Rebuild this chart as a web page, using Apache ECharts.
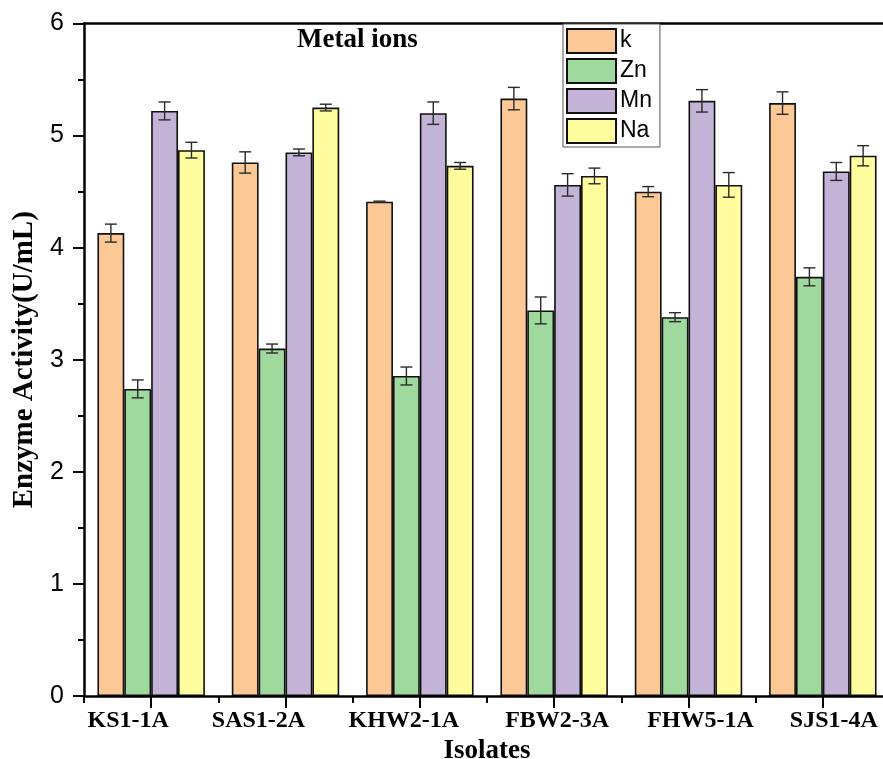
<!DOCTYPE html>
<html><head><meta charset="utf-8">
<script src="https://cdn.jsdelivr.net/npm/echarts@6/dist/echarts.min.js"></script>
<style>html,body{margin:0;padding:0;background:#fff;overflow:hidden}#c{width:883px;height:759px}</style>
</head><body><div id="c"></div>
<script>
const categories = ['KS1-1A','SAS1-2A','KHW2-1A','FBW2-3A','FHW5-1A','SJS1-4A'];
const seriesNames = ['k','Zn','Mn','Na'];
const kVals  = [4.13, 4.76, 4.41, 5.33, 4.50, 5.29];
const kErr   = [0.08, 0.095, 0.005, 0.10, 0.045, 0.10];
const znVals = [2.74, 3.10, 2.855, 3.44, 3.38, 3.74];
const znErr  = [0.08, 0.04, 0.08, 0.12, 0.04, 0.08];
const mnVals = [5.22, 4.85, 5.20, 4.56, 5.31, 4.68];
const mnErr  = [0.08, 0.03, 0.10, 0.10, 0.10, 0.08];
const naVals = [4.87, 5.25, 4.73, 4.64, 4.56, 4.82];
const naErr  = [0.07, 0.03, 0.03, 0.07, 0.11, 0.09];
const yTicks = [0,1,2,3,4,5,6];

const colors = ['#FCC896','#A0D99E','#C3B3D7','#FFFD9E'];
const vals = [kVals, znVals, mnVals, naVals];
const errs = [kErr, znErr, mnErr, naErr];
const serif = '"Liberation Serif","Times New Roman",serif';
const sans = '"Liberation Sans",Arial,sans-serif';
// horizontal label shifts (px) as placed in the original figure
const labelShift = [-23, -27, -16, 3, 12, 11];
const rich = {};
labelShift.forEach((s, i) => {
  rich['l' + i] = {fontFamily: serif, fontWeight: 'bold', fontSize: 24, color: '#000',
    padding: s < 0 ? [0, -2 * s, 0, 0] : [0, 0, 0, 2 * s]};
});

const chart = echarts.init(document.getElementById('c'));
const series = [];
seriesNames.forEach((n, si) => {
  series.push({
    name: n, type: 'bar', xAxisIndex: 0, data: vals[si],
    barGap: '0%', barCategoryGap: '20%',
    itemStyle: {color: colors[si], borderColor: '#111', borderWidth: 1.6},
    emphasis: {disabled: true}
  });
});
seriesNames.forEach((n, si) => {
  series.push({
    name: n + '_err', type: 'custom', xAxisIndex: 0, z: 5,
    data: vals[si].map((v, i) => [i, v, errs[si][i]]),
    encode: {x: 0, y: 1},
    renderItem: function (params, api) {
      const ci = api.value(0), v = api.value(1), e = api.value(2);
      const c = api.coord([ci, v]);
      const bw = api.size([1, 0])[0] * 0.8 / 4;
      const x = c[0] + (si - 1.5) * bw;
      const yt = api.coord([ci, v + e])[1];
      const yb = api.coord([ci, v - e])[1];
      const st = {stroke: '#2a2a2a', lineWidth: 1.4};
      return {type: 'group', children: [
        {type: 'line', shape: {x1: x, y1: yt, x2: x, y2: yb}, style: st},
        {type: 'line', shape: {x1: x - 6, y1: yt, x2: x + 6, y2: yt}, style: st},
        {type: 'line', shape: {x1: x - 6, y1: yb, x2: x + 6, y2: yb}, style: st}
      ]};
    }
  });
});

chart.setOption({
  animation: false,
  backgroundColor: '#fff',
  title: {text: 'Metal ions', left: 297, top: 27, padding: 0,
    textStyle: {fontFamily: serif, fontWeight: 'bold', fontSize: 27, color: '#000'}},
  legend: {
    data: seriesNames, orient: 'vertical', left: 563, top: 24,
    itemWidth: 49, itemHeight: 24, itemGap: 4, icon: 'rect',
    padding: [4, 8, 3, 3], borderColor: '#555', borderWidth: 1, backgroundColor: '#fff',
    textStyle: {fontFamily: sans, fontSize: 23, color: '#000', padding: [0,0,0,-1]},
    selectedMode: false
  },
  grid: {left: 84, top: 23.5, width: 806, height: 672.5, show: false, outerBoundsMode: 'none', containLabel: false},
  xAxis: [
    {type: 'category', data: categories, position: 'bottom', z: 10,
      axisLine: {show: true, lineStyle: {color: '#000', width: 2.5}},
      axisTick: {show: true, alignWithLabel: true, interval: 0, length: 12, lineStyle: {color: '#000', width: 2}},
      axisLabel: {interval: 0, margin: 13, rich: rich,
        formatter: (v, i) => '{l' + i + '|' + v + '}'},
      name: 'Isolates', nameLocation: 'middle', nameGap: 40,
      nameTextStyle: {fontFamily: serif, fontWeight: 'bold', fontSize: 27, color: '#000'}},
    {type: 'category', data: categories, position: 'bottom', z: 10,
      axisLine: {show: false},
      axisTick: {show: true, interval: 0, length: 7, lineStyle: {color: '#000', width: 2}},
      axisLabel: {show: false}},
    {type: 'category', data: categories, position: 'top',
      axisLine: {show: true, lineStyle: {color: '#000', width: 2.5}},
      axisTick: {show: false}, axisLabel: {show: false}}
  ],
  yAxis: {type: 'value', min: yTicks[0], max: yTicks[yTicks.length - 1], interval: 1,
    axisLine: {show: true, lineStyle: {color: '#000', width: 2.5}},
    axisTick: {show: true, length: 11, lineStyle: {color: '#000', width: 2}},
    minorTick: {show: true, splitNumber: 2, length: 6, lineStyle: {color: '#000', width: 2}},
    splitLine: {show: false},
    axisLabel: {margin: 20, fontFamily: sans, fontSize: 25, color: '#000'},
    name: 'Enzyme Activity(U/mL)', nameLocation: 'middle', nameGap: 45,
    nameTextStyle: {fontFamily: serif, fontWeight: 'bold', fontSize: 29, color: '#000'}},
  series: series
});
</script></body></html>
